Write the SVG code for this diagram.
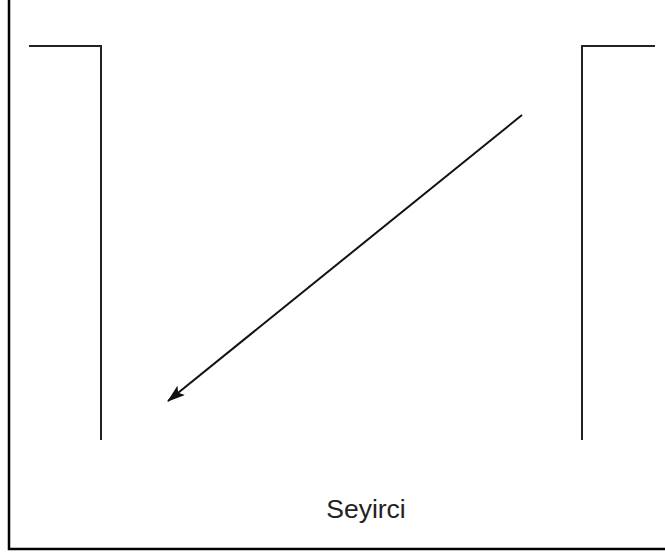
<svg xmlns="http://www.w3.org/2000/svg" width="665" height="555" viewBox="0 0 665 555">
<style>
.ln{fill:none;stroke:#222;stroke-width:2;stroke-linecap:square}
.fr{fill:none;stroke:#000;stroke-width:2.5}
.lbl{font-family:"Liberation Sans",Arial,sans-serif;font-size:26.5px;fill:#222}
</style>
<defs>
<marker id="ah" viewBox="0 0 18 12" refX="17" refY="6" markerWidth="18" markerHeight="12" markerUnits="userSpaceOnUse" orient="auto">
<path d="M0,0 L18,6 L0,12 L4,6 z" fill="#111"/>
</marker>
</defs>
<rect width="665" height="555" fill="#fff"/>
<path class="fr" d="M9,0 V549 H665"/>
<g id="left-wing"><path class="ln" d="M30,46 H101 V439"/></g>
<g id="right-wing"><path class="ln" d="M654,46 H582 V439"/></g>
<g id="connectors">
<line x1="522" y1="115" x2="168" y2="401" stroke="#111" stroke-width="2" marker-end="url(#ah)"/>
</g>
<g id="label"><text class="lbl" x="366" y="518" text-anchor="middle">Seyirci</text></g>
</svg>
